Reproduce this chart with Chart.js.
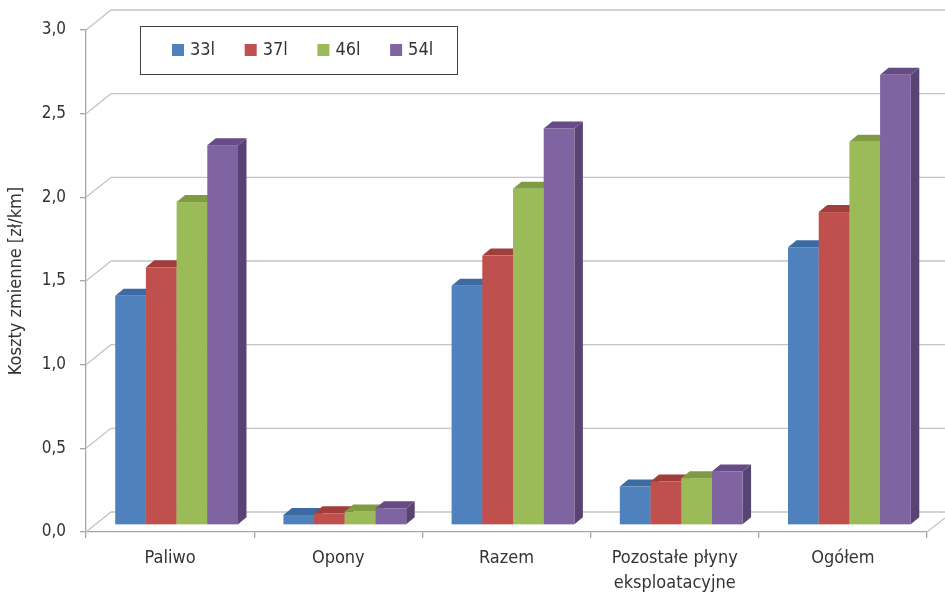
<!DOCTYPE html>
<html>
<head>
<meta charset="utf-8">
<script src="https://cdn.jsdelivr.net/npm/chart.js@4.4.1/dist/chart.umd.min.js"></script>
<style>
  html, body { margin: 0; padding: 0; background: #fff; }
  #wrap { width: 945px; height: 597px; position: relative; }
  canvas { display: block; }
</style>
</head>
<body>
<div id="wrap"><canvas id="c" width="945" height="597"></canvas></div>
<script>
// Variable costs per km for four engine sizes
const categories = ['Paliwo', 'Opony', 'Razem', ['Pozostałe płyny', 'eksploatacyjne'], 'Ogółem'];
const seriesNames = ['33l', '37l', '46l', '54l'];
const v33l = [1.37, 0.06, 1.43, 0.23, 1.66];
const v37l = [1.54, 0.07, 1.61, 0.26, 1.87];
const v46l = [1.93, 0.08, 2.01, 0.28, 2.29];
const v54l = [2.27, 0.10, 2.37, 0.32, 2.69];
const yTickValues = [0, 0.5, 1.0, 1.5, 2.0, 2.5, 3.0];

const FONT = '"Liberation Sans Narrow", "Arial Narrow", "DejaVu Sans Condensed", sans-serif';
const TEXT = '#333333';

// front, top and side shades for each series
const shades = [
  { front: '#4F81BD', top: '#3C6AA2', side: '#36598A' },
  { front: '#C0504D', top: '#A03E3B', side: '#8C3532' },
  { front: '#9BBB59', top: '#7F9C43', side: '#6D873A' },
  { front: '#8064A2', top: '#654C86', side: '#584375' }
];

// perspective: offset from the front plane to the back wall, and bar depth
const WALL = { dx: 25, dy: -20 };
const BAR_SHIFT = { dx: 6.5, dy: -7 };
const BAR_DEPTH = { dx: 8.5, dy: -7 };

const fmt = v => Number(v).toFixed(1).replace('.', ',');

const walls3d = {
  id: 'walls3d',
  beforeDatasetsDraw(chart) {
    const ctx = chart.ctx;
    const area = chart.chartArea;
    const y = chart.scales.y;
    const W = chart.width;
    ctx.save();
    // gridlines on the left wall and back wall
    ctx.strokeStyle = '#C4C4C4';
    ctx.lineWidth = 1.3;
    yTickValues.forEach(v => {
      const py = y.getPixelForValue(v);
      ctx.beginPath();
      ctx.moveTo(area.left, py);
      ctx.lineTo(area.left + WALL.dx, py + WALL.dy);
      ctx.lineTo(W, py + WALL.dy);
      ctx.stroke();
    });
    // right edge of the floor
    ctx.beginPath();
    ctx.moveTo(area.right, area.bottom);
    ctx.lineTo(area.right + 18, area.bottom - 14);
    ctx.stroke();

    // 3D bars, drawn left to right so later fronts cover earlier sides
    const metas = chart.data.datasets.map((d, i) => chart.getDatasetMeta(i));
    const n = categories.length;
    for (let c = 0; c < n; c++) {
      metas.forEach((meta, s) => {
        const el = meta.data[c];
        const p = el.getProps(['x', 'y', 'base', 'width'], true);
        const x0 = p.x - p.width / 2 + BAR_SHIFT.dx;
        const x1 = p.x + p.width / 2 + BAR_SHIFT.dx;
        const yt = p.y + BAR_SHIFT.dy;
        const yb = p.base + BAR_SHIFT.dy;
        const sh = shades[s];
        // side face
        ctx.fillStyle = sh.side;
        ctx.beginPath();
        ctx.moveTo(x1, yt);
        ctx.lineTo(x1 + BAR_DEPTH.dx, yt + BAR_DEPTH.dy);
        ctx.lineTo(x1 + BAR_DEPTH.dx, yb + BAR_DEPTH.dy);
        ctx.lineTo(x1, yb);
        ctx.closePath();
        ctx.fill();
        // top face
        ctx.fillStyle = sh.top;
        ctx.beginPath();
        ctx.moveTo(x0, yt);
        ctx.lineTo(x0 + BAR_DEPTH.dx, yt + BAR_DEPTH.dy);
        ctx.lineTo(x1 + BAR_DEPTH.dx, yt + BAR_DEPTH.dy);
        ctx.lineTo(x1, yt);
        ctx.closePath();
        ctx.fill();
        // front face
        ctx.fillStyle = sh.front;
        ctx.fillRect(x0, yt, x1 - x0, yb - yt);
      });
    }
    ctx.restore();
    return false;
  },
  afterDraw(chart) {
    // boxed legend
    const ctx = chart.ctx;
    ctx.save();
    ctx.strokeStyle = '#404040';
    ctx.lineWidth = 1;
    ctx.strokeRect(140.5, 26.5, 317, 48);
    ctx.font = '18px ' + FONT;
    ctx.textBaseline = 'middle';
    ctx.textAlign = 'left';
    chart.data.datasets.forEach((d, i) => {
      const bx = 172 + i * 72.7;
      ctx.fillStyle = d.backgroundColor;
      ctx.fillRect(bx, 44, 12, 12);
      ctx.fillStyle = TEXT;
      ctx.fillText(d.label, bx + 18, 50.5);
    });
    ctx.restore();
  }
};

const allSeries = [v33l, v37l, v46l, v54l];

new Chart(document.getElementById('c'), {
  type: 'bar',
  data: {
    labels: categories,
    datasets: allSeries.map((vals, i) => ({
      label: seriesNames[i],
      data: vals,
      backgroundColor: shades[i].front,
      categoryPercentage: 0.73,
      barPercentage: 1.0
    }))
  },
  options: {
    responsive: false,
    animation: false,
    devicePixelRatio: 1,
    layout: { padding: { top: 30, right: 18, left: 0, bottom: 0 } },
    plugins: { legend: { display: false }, tooltip: { enabled: false } },
    scales: {
      x: {
        offset: true,
        grid: { display: true, drawOnChartArea: false, offset: true, tickLength: 6, color: '#A6A6A6', lineWidth: 1.3 },
        border: { display: true, color: '#A6A6A6', width: 1.3 },
        ticks: { color: TEXT, font: { family: FONT, size: 18, lineHeight: 1.4 }, padding: 7.5, maxRotation: 0, autoSkip: false },
        afterFit(s) { s.height = 65; }
      },
      y: {
        min: 0, max: 3,
        afterBuildTicks(s) { s.ticks = yTickValues.map(v => ({ value: v })); },
        grid: { display: true, drawOnChartArea: false, tickLength: 6, color: '#A6A6A6', lineWidth: 1.3 },
        border: { display: true, color: '#A6A6A6', width: 1.3 },
        ticks: { color: TEXT, font: { family: FONT, size: 17 }, padding: 14, callback: v => fmt(v) },
        title: { display: true, text: 'Koszty zmienne [zł/km]', color: TEXT, font: { family: FONT, size: 18, lineHeight: 1.2 }, padding: { top: 6, bottom: 0 } },
        afterFit(s) { s.width = 86; }
      }
    }
  },
  plugins: [walls3d]
});
</script>
</body>
</html>
